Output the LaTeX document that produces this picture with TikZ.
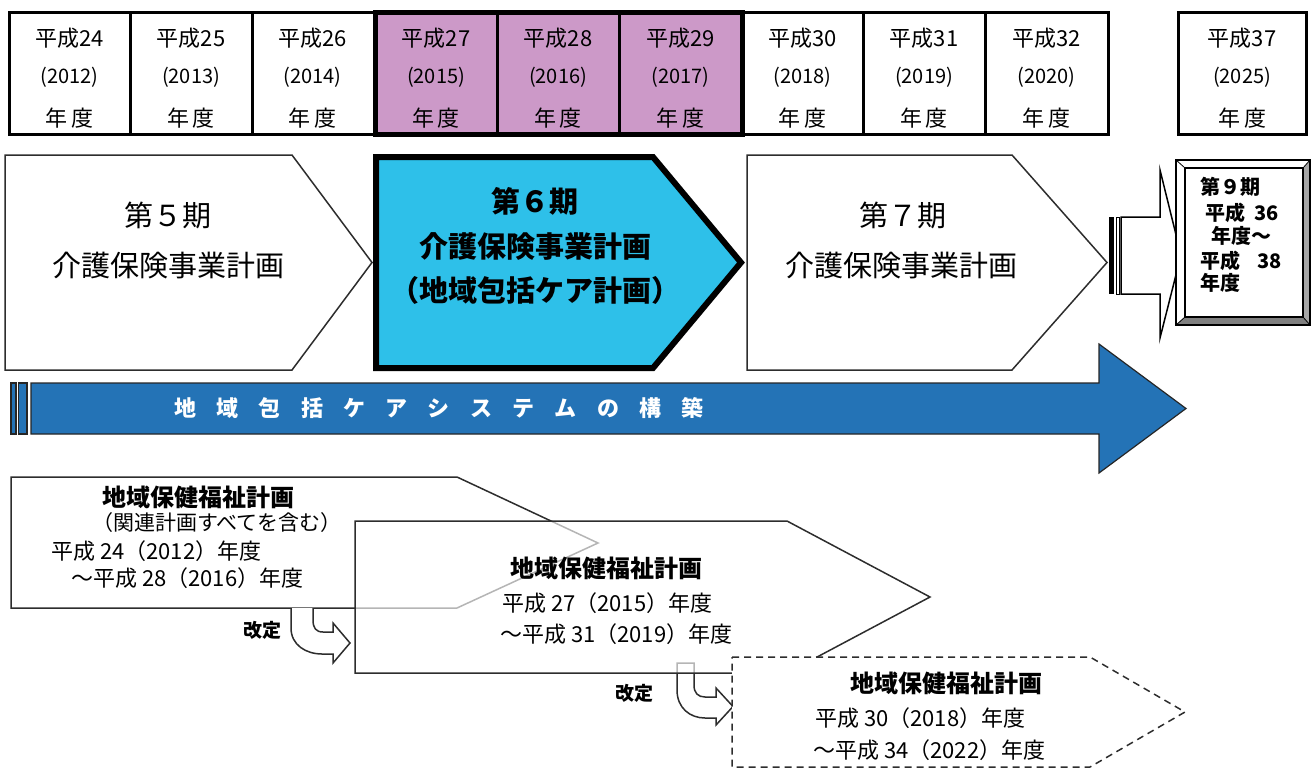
\documentclass[tikz,border=0pt]{standalone}
\usepackage{fontspec}
\setmainfont{Noto Sans CJK JP}
\definecolor{pinkc}{RGB}{204,153,200}
\definecolor{cyanc}{RGB}{46,192,233}
\definecolor{bluec}{RGB}{36,115,182}
\definecolor{linec}{RGB}{45,45,45}
\newcommand\mygap{\hspace{20.3pt}}
\tikzset{
  fs/.style={font=\fontsize{#1pt}{#1pt}\selectfont},
  txt/.style={inner sep=0pt, text=black},
  hd/.style={txt, fs=22},
  yr/.style={txt, fs=20},
  outl/.style={draw=linec, line width=1.5pt},
  bigt/.style={txt, fs=29},
  bigb/.style={txt, font=\fontsize{29pt}{29pt}\selectfont\bfseries},
  ninet/.style={txt, anchor=west, font=\fontsize{20pt}{20pt}\selectfont\bfseries},
  btitle/.style={txt, anchor=west, font=\fontsize{24pt}{24pt}\selectfont\bfseries},
  bline/.style={txt, anchor=west, font=\fontsize{22pt}{22pt}\selectfont},
  kaitei/.style={txt, font=\fontsize{19pt}{19pt}\selectfont\bfseries},
  uarrow/.style={fill=white, draw=linec, line width=1.5pt},
}
\begin{document}
\begin{tikzpicture}[x=1pt,y=-1pt]
\useasboundingbox (0,0) rectangle (1313,771);
% ---------- top table ----------
\fill[pinkc] (375,12.5) rectangle (742,134);
\draw[line width=3pt] (9,12.5) rectangle (1108,134);
\foreach \x in {130,252,497,619,863,985} \draw[line width=3pt] (\x,12.5) -- (\x,134);
\draw[line width=5pt] (375,12.5) rectangle (742,134);
\draw[line width=3pt] (1178,12.5) rectangle (1306,134);
\foreach \c/\a/\b [count=\i] in {69.5/平成24/(2012), 191/平成25/(2013), 312.5/平成26/(2014), 436/平成27/(2015), 558/平成28/(2016), 680.5/平成29/(2017), 802.5/平成30/(2018), 924/平成31/(2019), 1046.5/平成32/(2020), 1242/平成37/(2025)} {
  \node[hd] (ya\i) at (\c,38) {\a};
  \node[yr] (yb\i) at (\c,77) {\b};
  \node[hd] (yc\i) at (\c,118) {年\hspace{4pt}度};
}
% ---------- plan pentagons ----------
\draw[outl, fill=white] (5,155) -- (292,155) -- (372,262.5) -- (292,370) -- (5,370) -- cycle;
\draw[line width=6pt, fill=cyanc] (376,157) -- (653,157) -- (741,262.5) -- (653,368) -- (376,368) -- cycle;
\draw[outl, fill=white] (747,155) -- (1012,155) -- (1107,262.5) -- (1012,370) -- (747,370) -- cycle;
\node[bigt] (p5a) at (168,215) {第５期};
\node[bigt] (p5b) at (168,266) {介護保険事業計画};
\node[bigb] (p6a) at (535,201) {第６期};
\node[bigb] (p6b) at (535,247) {介護保険事業計画};
\node[bigb] (p6c) at (535,290) {（地域包括ケア計画）};
\node[bigt] (p7a) at (903,215) {第７期};
\node[bigt] (p7b) at (901,266) {介護保険事業計画};
% ---------- striped arrow to 9th ----------
\fill[black] (1109,217) rectangle (1114,294);
\draw[black, line width=1pt, fill=white] (1116.5,217) rectangle (1119.5,294);
\draw[black, line width=1.5pt, fill=white] (1121,217) -- (1160,217) -- (1160,170) -- (1181,255) -- (1160,338) -- (1160,294) -- (1121,294) -- cycle;
% ---------- 9th bevel box ----------
\fill[white] (1176,160) -- (1310,160) -- (1303,168) -- (1185,168) -- cycle;
\fill[white] (1176,160) -- (1185,168) -- (1185,317) -- (1176,325) -- cycle;
\fill[black!35] (1310,160) -- (1310,325) -- (1303,317) -- (1303,168) -- cycle;
\fill[black!50] (1176,325) -- (1310,325) -- (1303,317) -- (1185,317) -- cycle;
\fill[white] (1185,168) rectangle (1303,317);
\draw[black, line width=1.2pt] (1176,160) rectangle (1310,325);
\draw[black, line width=1.2pt] (1185,168) rectangle (1303,317);
\draw[black, line width=0.8pt] (1176,160) -- (1185,168) (1310,160) -- (1303,168) (1176,325) -- (1185,317) (1310,325) -- (1303,317);
\node[ninet] (n1) at (1200,187) {第９期};
\node[ninet] (n2) at (1205,213) {平成\hspace{9pt}36};
\node[ninet] (n3) at (1211,236) {年度～};
\node[ninet] (n4) at (1200,261) {平成\hspace{17pt}38};
\node[ninet] (n5) at (1200,283) {年度};
% ---------- blue banner ----------
\draw[fill=bluec, draw=black!85, line width=1.2pt] (11,383) rectangle (16,434);
\draw[fill=bluec, draw=black!85, line width=1.2pt] (18.5,383) rectangle (27,434);
\draw[fill=bluec, draw=black!85, line width=1.2pt] (31,383) -- (1099,383) -- (1099,344) -- (1186,408.5) -- (1099,473) -- (1099,434) -- (31,434) -- cycle;
\node[txt, anchor=west, text=white, font=\fontsize{22pt}{22pt}\selectfont\bfseries] (ban) at (174,408.5)
  {地\mygap 域\mygap 包\mygap 括\mygap ケ\mygap ア\mygap シ\mygap ス\mygap テ\mygap ム\mygap の\mygap 構\mygap 築};
% ---------- bottom plans ----------
\draw[outl, fill=white] (11,477) -- (457,477) -- (598,543) -- (457,608) -- (11,608) -- cycle;
\node[btitle] (b1t) at (102,497) {地域保健福祉計画};
\node[bline, font=\fontsize{21pt}{21pt}\selectfont] (b1a) at (92,523) {（関連計画すべてを含む）};
\node[bline] (b1b) at (51,551) {平成 24（2012）年度};
\node[bline] (b1c) at (71,578) {～平成 28（2016）年度};
% revision arrow 2 (under box 2)
\draw[uarrow] (677,663) -- (677,690) .. controls (677,708) and (690,718) .. (705,718) -- (716,718) -- (716,725) -- (733,706.5) -- (716,688) -- (716,697) -- (705,697) .. controls (698,697) and (694,693) .. (694,685) -- (694,663) -- cycle;
% box 2 (translucent)
\draw[draw=linec, line width=1.5pt, fill=white, fill opacity=0.65] (355,521) -- (787,521) -- (930,597) -- (787,673) -- (355,673) -- cycle;
\node[btitle] (b2t) at (510,568) {地域保健福祉計画};
\node[bline] (b2a) at (502,603) {平成 27（2015）年度};
\node[bline] (b2b) at (500,634) {～平成 31（2019）年度};
% revision arrow 1
\draw[uarrow] (291,608) -- (291,628) .. controls (291,645) and (306,654) .. (322,654) -- (333,654) -- (333,663) -- (350,643) -- (333,623) -- (333,632) -- (323,632) .. controls (316,632) and (313,628) .. (313,620) -- (313,608);
\node[kaitei] (k1) at (262,630) {改定};
\node[kaitei] (k2) at (634,693) {改定};
% box 3 dashed
\draw[draw=linec, line width=1.5pt, dash pattern=on 7pt off 5pt, fill=white] (732,657) -- (1090,657) -- (1185,712) -- (1090,767) -- (732,767) -- cycle;
\node[btitle] (b3t) at (850,683) {地域保健福祉計画};
\node[bline] (b3a) at (815,718) {平成 30（2018）年度};
\node[bline] (b3b) at (813,750) {～平成 34（2022）年度};
\end{tikzpicture}
\end{document}
